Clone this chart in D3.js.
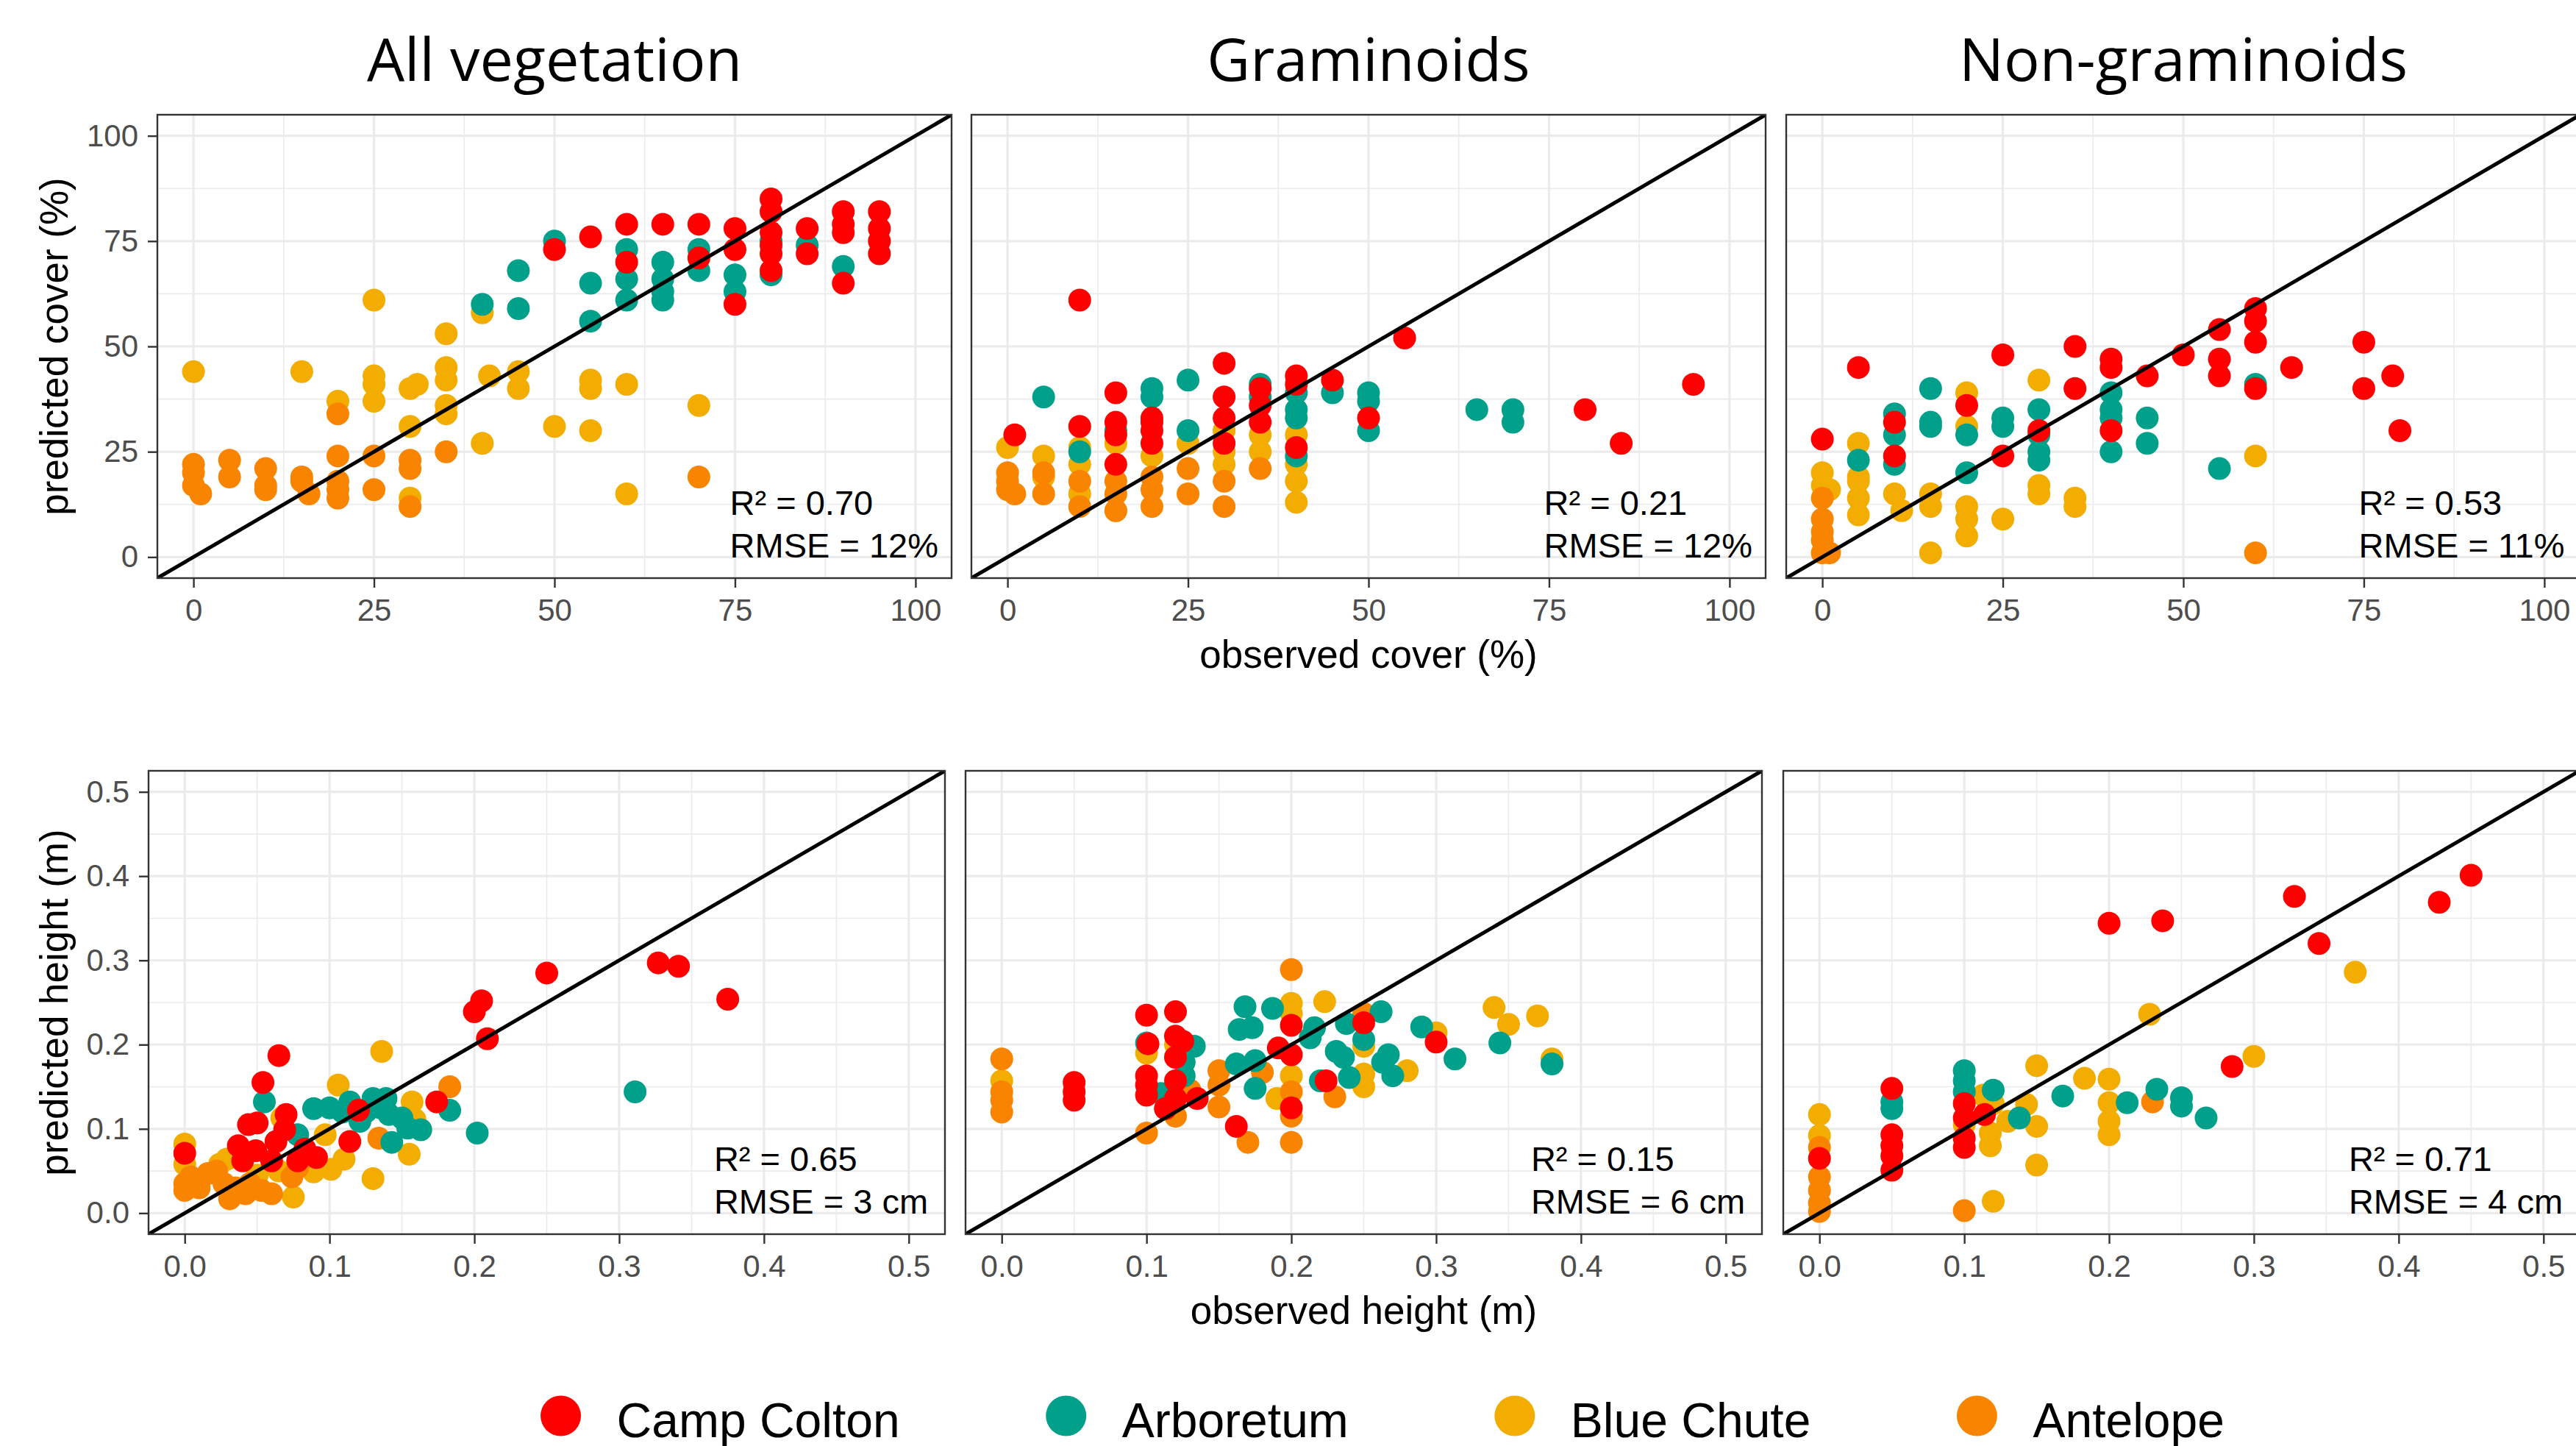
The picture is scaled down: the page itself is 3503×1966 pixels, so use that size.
<!DOCTYPE html>
<html>
<head>
<meta charset="utf-8">
<script src="https://cdn.jsdelivr.net/npm/d3@7"></script>
<style>
  body { margin: 0; background: #ffffff; }
  svg { display: block; }
</style>
</head>
<body>
<svg id="chart" width="3503" height="1966"></svg>
<script>
// ---- Sites and palette ----
const sites = ["Camp Colton", "Arboretum", "Blue Chute", "Antelope"];
const siteColors = ["#FF0000", "#00A08A", "#F2AD00", "#F98400"];
// points are painted in this site order (last on top)
const drawOrder = ["Blue Chute", "Antelope", "Arboretum", "Camp Colton"];

const panelTitles = ["All vegetation", "Graminoids", "Non-graminoids"];
const coverTicks = [0, 25, 50, 75, 100];
const heightTicks = [0, 0.1, 0.2, 0.3, 0.4, 0.5];
const coverR2 = ["0.70", "0.21", "0.53"];
const coverRmse = ["12%", "12%", "11%"];
const heightR2 = ["0.65", "0.15", "0.71"];
const heightRmse = ["3 cm", "6 cm", "4 cm"];

// ---- Cover (%): [observed, predicted] ----
const coverAllCampColton = [[50,73],[55,76],[60,79],[60,70],[65,79],[70,79],[70,71],[75,78],[75,73],[75,60],
  [80,85],[80,82],[80,77],[80,74],[80,72],[80,68],[85,78],[85,72],[90,82],[90,79],[90,77],[90,65],
  [95,82],[95,78],[95,75],[95,72]];
const coverAllArboretum = [[40,60],[45,68],[45,59],[50,75],[55,65],[55,56],[60,73],[60,66],[60,61],
  [65,70],[65,66],[65,63],[65,61],[70,73],[70,68],[75,67],[75,63],[80,67],[80,75],[85,74],[90,69]];
const coverAllBlueChute = [[0,44],[15,44],[20,37],[25,61],[25,43],[25,41],[25,37],[30,40],[31,41],[30,31],
  [30,14],[35,53],[35,45],[35,42],[35,36],[35,34],[40,58],[41,43],[40,27],[45,44],[45,40],[50,31],
  [55,42],[55,40],[55,30],[60,41],[60,15],[70,36]];
const coverAllAntelope = [[0,22],[0,20],[0,17],[1,15],[5,23],[5,19],[10,21],[10,17],[10,16],[15,19],[15,18],
  [16,15],[20,34],[20,24],[20,18],[20,16],[20,14],[25,24],[25,16],[30,23],[30,21],[30,12],[35,25],[70,19]];

const coverGramCampColton = [[10,61],[55,52],[30,46],[40,43],[40,41],[45,42],[35,40],[35,36],[35,32],[30,38],
  [30,33],[30,27],[20,33],[20,30],[20,27],[20,32],[15,39],[15,32],[15,29],[15,22],[10,31],[1,29],
  [50,33],[40,26],[80,35],[85,27],[95,41]];
const coverGramArboretum = [[5,38],[20,40],[20,38],[25,42],[25,30],[35,41],[35,38],[40,39],[40,35],[40,33],
  [40,24],[45,39],[50,39],[50,37],[50,30],[65,35],[70,35],[70,32],[10,25],[15,30]];
const coverGramBlueChute = [[0,26],[5,24],[5,19],[10,26],[10,22],[10,15],[15,27],[15,11],[20,24],[25,27],
  [30,30],[30,25],[30,22],[35,29],[35,25],[40,29],[40,22],[40,18],[40,13]];
const coverGramAntelope = [[0,20],[0,18],[0,16],[1,15],[5,20],[5,15],[10,18],[10,12],[15,18],[15,15],[15,11],
  [20,19],[20,16],[20,12],[25,21],[25,15],[30,18],[30,12],[35,21]];

const coverNonGramCampColton = [[0,28],[5,45],[10,32],[10,24],[20,36],[25,48],[25,24],[30,30],[35,50],[35,40],
  [40,47],[40,45],[40,30],[45,43],[50,48],[55,54],[55,47],[55,43],[60,59],[60,56],[60,51],[60,40],
  [65,45],[75,51],[75,40],[79,43],[80,30]];
const coverNonGramArboretum = [[5,23],[10,34],[10,29],[10,22],[15,40],[15,32],[15,31],[20,29],[20,20],[25,33],
  [25,31],[30,35],[30,29],[30,25],[30,23],[40,39],[40,35],[40,33],[40,25],[45,33],[45,27],[55,21],[60,41]];
const coverNonGramBlueChute = [[0,20],[0,17],[1,16],[5,27],[5,19],[5,18],[5,14],[5,10],[10,15],[11,11],[15,15],
  [15,12],[15,1],[20,39],[20,31],[20,12],[20,9],[20,5],[25,9],[30,42],[30,17],[30,15],[35,14],[35,12],[60,24]];
const coverNonGramAntelope = [[0,14],[0,9],[0,6],[0,4],[0,1],[1,1],[60,1]];

// ---- Height (m): [observed, predicted] ----
const heightAllCampColton = [[0,0.071],[0.065,0.187],[0.054,0.155],[0.050,0.107],[0.044,0.105],[0.070,0.117],
  [0.037,0.080],[0.040,0.062],[0.049,0.074],[0.060,0.062],[0.063,0.085],[0.069,0.099],[0.078,0.062],
  [0.083,0.076],[0.091,0.066],[0.120,0.122],[0.114,0.085],[0.174,0.132],[0.200,0.239],[0.205,0.252],
  [0.209,0.207],[0.250,0.285],[0.327,0.297],[0.341,0.293],[0.375,0.254]];
const heightAllArboretum = [[0.055,0.132],[0.089,0.124],[0.100,0.125],[0.109,0.120],[0.114,0.132],[0.121,0.109],
  [0.130,0.136],[0.139,0.136],[0.141,0.117],[0.150,0.113],[0.154,0.101],[0.163,0.099],[0.143,0.084],
  [0.183,0.122],[0.202,0.095],[0.311,0.144],[0.078,0.093],[0.125,0.120],[0.135,0.125]];
const heightAllBlueChute = [[0,0.082],[0,0.058],[0.136,0.192],[0.106,0.152],[0.157,0.132],[0.159,0.111],
  [0.155,0.070],[0.097,0.093],[0.130,0.041],[0.075,0.019],[0.110,0.064],[0.101,0.052],[0.089,0.049],
  [0.067,0.113],[0.024,0.058],[0.029,0.064],[0.121,0.117],[0.065,0.050],[0.050,0.045]];
const heightAllAntelope = [[0.183,0.150],[0.134,0.089],[0,0.035],[0,0.027],[0.004,0.043],[0.016,0.047],
  [0.022,0.050],[0.027,0.035],[0.031,0.017],[0.042,0.023],[0.053,0.027],[0.060,0.023],[0.074,0.043],
  [0.078,0.054],[0.010,0.030],[0.035,0.030],[0.045,0.035]];

const heightGramCampColton = [[0.05,0.155],[0.05,0.144],[0.05,0.134],[0.1,0.235],[0.101,0.201],[0.1,0.163],
  [0.1,0.152],[0.1,0.140],[0.12,0.239],[0.12,0.210],[0.125,0.204],[0.12,0.185],[0.12,0.157],[0.12,0.136],
  [0.113,0.124],[0.135,0.136],[0.162,0.103],[0.191,0.196],[0.2,0.223],[0.2,0.188],[0.2,0.125],
  [0.224,0.157],[0.25,0.226],[0.3,0.203]];
const heightGramArboretum = [[0.168,0.245],[0.187,0.243],[0.164,0.218],[0.173,0.220],[0.162,0.177],[0.175,0.181],
  [0.175,0.148],[0.216,0.220],[0.213,0.208],[0.238,0.225],[0.262,0.239],[0.25,0.206],[0.231,0.192],
  [0.236,0.185],[0.240,0.161],[0.220,0.157],[0.267,0.188],[0.263,0.179],[0.270,0.163],[0.290,0.221],
  [0.313,0.183],[0.344,0.202],[0.380,0.177],[0.1,0.202],[0.126,0.163],[0.126,0.179],[0.133,0.198],[0.110,0.142]];
const heightGramBlueChute = [[0,0.157],[0.1,0.190],[0.2,0.249],[0.2,0.237],[0.223,0.251],[0.2,0.163],[0.19,0.136],
  [0.25,0.198],[0.25,0.165],[0.25,0.150],[0.28,0.169],[0.30,0.214],[0.340,0.244],[0.350,0.224],
  [0.370,0.234],[0.380,0.183],[0.12,0.200]];
const heightGramAntelope = [[0,0.183],[0,0.144],[0,0.134],[0,0.120],[0.2,0.289],[0.25,0.237],[0.15,0.169],
  [0.15,0.152],[0.15,0.126],[0.18,0.167],[0.23,0.138],[0.1,0.095],[0.17,0.084],[0.2,0.084],[0.2,0.115],
  [0.2,0.144],[0.12,0.115],[0.13,0.146]];

const heightNonGramCampColton = [[0.2,0.344],[0.237,0.347],[0.328,0.376],[0.345,0.320],[0.428,0.369],[0.450,0.401],
  [0.285,0.174],[0.05,0.148],[0.05,0.093],[0.05,0.080],[0.05,0.068],[0.05,0.051],[0,0.065],[0.1,0.130],
  [0.1,0.113],[0.1,0.089],[0.1,0.078],[0.114,0.117]];
const heightNonGramArboretum = [[0.1,0.169],[0.1,0.157],[0.1,0.144],[0.05,0.132],[0.05,0.124],[0.12,0.146],
  [0.138,0.113],[0.168,0.139],[0.2125,0.131],[0.233,0.147],[0.25,0.137],[0.25,0.127],[0.267,0.113]];
const heightNonGramBlueChute = [[0,0.117],[0,0.092],[0.113,0.140],[0.12,0.130],[0.118,0.095],[0.118,0.080],
  [0.130,0.109],[0.143,0.129],[0.15,0.175],[0.15,0.103],[0.15,0.057],[0.183,0.160],[0.2,0.159],[0.2,0.131],
  [0.2,0.109],[0.2,0.093],[0.228,0.236],[0.300,0.186],[0.370,0.286],[0.12,0.014],[0.1,0.105]];
const heightNonGramAntelope = [[0,0.078],[0,0.043],[0,0.027],[0,0.012],[0,0.002],[0.1,0.003],[0.23,0.132]];

// ---- Page layout ----
const svg = d3.select("#chart");
const tickFont = "'Liberation Sans', Arial, sans-serif";
const titleFont = "'Open Sans', 'Noto Sans', sans-serif";

function siteSeries(a, b, c, d) {
  return { "Camp Colton": a, "Arboretum": b, "Blue Chute": c, "Antelope": d };
}

const rows = [
  {
    domain: [-5, 105], ticks: coverTicks, minor: [12.5, 37.5, 62.5, 87.5], fmt: d3.format("d"),
    top: 156, height: 630, lefts: [214, 1321, 2429], width: 1080, annotX: 74.3,
    r2: coverR2, rmse: coverRmse, xTitle: "observed cover (%)", yTitle: "predicted cover (%)",
    series: [
      siteSeries(coverAllCampColton, coverAllArboretum, coverAllBlueChute, coverAllAntelope),
      siteSeries(coverGramCampColton, coverGramArboretum, coverGramBlueChute, coverGramAntelope),
      siteSeries(coverNonGramCampColton, coverNonGramArboretum, coverNonGramBlueChute, coverNonGramAntelope)
    ]
  },
  {
    domain: [-0.025, 0.525], ticks: heightTicks, minor: [0.05, 0.15, 0.25, 0.35, 0.45], fmt: d3.format(".1f"),
    top: 1048, height: 630, lefts: [202, 1313, 2425], width: 1083, annotX: 0.3655,
    r2: heightR2, rmse: heightRmse, xTitle: "observed height (m)", yTitle: "predicted height (m)",
    series: [
      siteSeries(heightAllCampColton, heightAllArboretum, heightAllBlueChute, heightAllAntelope),
      siteSeries(heightGramCampColton, heightGramArboretum, heightGramBlueChute, heightGramAntelope),
      siteSeries(heightNonGramCampColton, heightNonGramArboretum, heightNonGramBlueChute, heightNonGramAntelope)
    ]
  }
];

const color = d3.scaleOrdinal().domain(sites).range(siteColors);
const defs = svg.append("defs");

rows.forEach((row, ri) => {
  row.lefts.forEach((left, pi) => {
    const x = d3.scaleLinear().domain(row.domain).range([left, left + row.width]);
    const y = d3.scaleLinear().domain(row.domain).range([row.top + row.height, row.top]);
    const g = svg.append("g");
    const clipId = `clip-${ri}-${pi}`;
    defs.append("clipPath").attr("id", clipId)
      .append("rect").attr("x", left).attr("y", row.top).attr("width", row.width).attr("height", row.height);

    // grid
    const grid = g.append("g").attr("clip-path", `url(#${clipId})`);
    grid.selectAll(".vminor").data(row.minor).join("line")
      .attr("x1", d => x(d)).attr("x2", d => x(d)).attr("y1", row.top).attr("y2", row.top + row.height)
      .attr("stroke", "#EBEBEB").attr("stroke-width", 1.6);
    grid.selectAll(".hminor").data(row.minor).join("line")
      .attr("y1", d => y(d)).attr("y2", d => y(d)).attr("x1", left).attr("x2", left + row.width)
      .attr("stroke", "#EBEBEB").attr("stroke-width", 1.6);
    grid.selectAll(".vmajor").data(row.ticks).join("line")
      .attr("x1", d => x(d)).attr("x2", d => x(d)).attr("y1", row.top).attr("y2", row.top + row.height)
      .attr("stroke", "#EBEBEB").attr("stroke-width", 3.2);
    grid.selectAll(".hmajor").data(row.ticks).join("line")
      .attr("y1", d => y(d)).attr("y2", d => y(d)).attr("x1", left).attr("x2", left + row.width)
      .attr("stroke", "#EBEBEB").attr("stroke-width", 3.2);

    // points
    const pts = g.append("g").attr("clip-path", `url(#${clipId})`);
    drawOrder.forEach(site => {
      pts.selectAll(null).data(row.series[pi][site]).join("circle")
        .attr("cx", d => x(d[0])).attr("cy", d => y(d[1])).attr("r", 15.5)
        .attr("fill", color(site));
    });

    // 1:1 line
    pts.append("line")
      .attr("x1", x(row.domain[0])).attr("y1", y(row.domain[0]))
      .attr("x2", x(row.domain[1])).attr("y2", y(row.domain[1]))
      .attr("stroke", "#000").attr("stroke-width", 5);

    // fit statistics
    const ann = g.append("text").attr("font-family", tickFont).attr("font-size", 47).attr("fill", "#000");
    ann.append("tspan").attr("x", x(row.annotX)).attr("y", row.top + row.height - 86)
      .text(`R\u00B2 = ${row.r2[pi]}`);
    ann.append("tspan").attr("x", x(row.annotX)).attr("y", row.top + row.height - 28)
      .text(`RMSE = ${row.rmse[pi]}`);

    // panel border
    g.append("rect").attr("x", left).attr("y", row.top).attr("width", row.width).attr("height", row.height)
      .attr("fill", "none").attr("stroke", "#333333").attr("stroke-width", 2.4);

    // x axis
    const xAxis = g.append("g").attr("transform", `translate(0,${row.top + row.height})`)
      .call(d3.axisBottom(x).tickValues(row.ticks).tickFormat(row.fmt).tickSize(13).tickPadding(15));
    xAxis.select(".domain").remove();
    xAxis.selectAll(".tick line").attr("stroke", "#333333").attr("stroke-width", 2.4);
    xAxis.selectAll(".tick text").attr("font-family", tickFont).attr("font-size", 42).attr("fill", "#4D4D4D");

    // y axis on the first column only
    if (pi === 0) {
      const yAxis = g.append("g").attr("transform", `translate(${left},0)`)
        .call(d3.axisLeft(y).tickValues(row.ticks).tickFormat(row.fmt).tickSize(13).tickPadding(13));
      yAxis.select(".domain").remove();
      yAxis.selectAll(".tick line").attr("stroke", "#333333").attr("stroke-width", 2.4);
      yAxis.selectAll(".tick text").attr("font-family", tickFont).attr("font-size", 42).attr("fill", "#4D4D4D");

      svg.append("text")
        .attr("transform", `translate(92,${row.top + row.height / 2}) rotate(-90)`)
        .attr("text-anchor", "middle").attr("font-family", tickFont).attr("font-size", 53).attr("fill", "#000")
        .text(row.yTitle);
    }

    if (ri === 0) {
      svg.append("text").attr("x", left + row.width / 2).attr("y", 110)
        .attr("text-anchor", "middle").attr("font-family", titleFont).attr("font-size", 81).attr("fill", "#000")
        .text(panelTitles[pi]);
    }
    if (pi === 1) {
      svg.append("text").attr("x", left + row.width / 2).attr("y", row.top + row.height + 122)
        .attr("text-anchor", "middle").attr("font-family", tickFont).attr("font-size", 53).attr("fill", "#000")
        .text(row.xTitle);
    }
  });
});

// ---- Legend ----
const legend = svg.append("g");
let cursor = 0;
sites.forEach(site => {
  const item = legend.append("g");
  item.append("circle").attr("cx", 0).attr("cy", -29).attr("r", 27.5).attr("fill", color(site));
  const t = item.append("text").attr("x", 76).attr("y", 0).attr("font-family", tickFont)
    .attr("font-size", 66).attr("fill", "#000").text(site);
  const w = 76 + t.node().getComputedTextLength();
  item.attr("transform", `translate(${cursor},0)`);
  cursor += w + 226;
});
const legendWidth = cursor - 226 + 27.5;
legend.attr("transform", `translate(${1880 - legendWidth / 2 + 27.5},1954)`);
</script>
</body>
</html>
